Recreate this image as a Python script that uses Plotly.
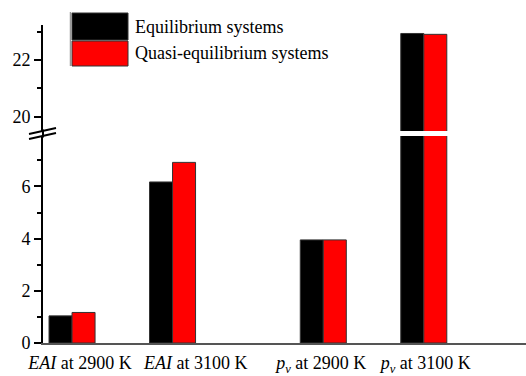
import plotly.graph_objects as go

# ---- data ----
categories = ["<i>EAI</i> at 2900 K", "<i>EAI</i> at 3100 K",
              "<i>p</i><sub><i>v</i></sub> at 2900 K", "<i>p</i><sub><i>v</i></sub> at 3100 K"]
series_names = ["Equilibrium systems", "Quasi-equilibrium systems"]
equilibrium = [1.04, 6.17, 3.95, 22.94]
quasi_equilibrium = [1.17, 6.92, 3.95, 22.91]
lower_ticks = [0, 2, 4, 6]
upper_ticks = [20, 22]

# ---- layout helpers (slot positions, not data) ----
slots = [0, 1, 2.5, 3.5]
label_pos = [0.08, 1.23, 2.48, 3.52]
W, H = 526, 376
ML, MR, MT, MB = 43, 0, 25, 33
PW, PH = W - ML - MR, H - MT - MB
FONT = "Times New Roman, Times, DejaVu Serif, serif"


def pxx(x):
    return (x - ML) / PW


def pxy(y):
    return (H - MB - y) / PH


colors = ["#000000", "#ff0000"]
values = [equilibrium, quasi_equilibrium]
bw = 0.229
offsets = [-bw, 0]

fig = go.Figure()
for yax in ["y", "y2"]:
    for name, vals, col, off in zip(series_names, values, colors, offsets):
        fig.add_trace(go.Bar(
            x=slots, y=vals, name=name, yaxis=yax,
            width=bw, offset=off,
            marker=dict(color=col, line=dict(color="#333333", width=1)),
            showlegend=False,
        ))

lower_top = 136
upper_bot = 131
lower_dom = [0, pxy(lower_top)]
upper_dom = [pxy(upper_bot), 1]

axis_common = dict(
    showline=True, linecolor="black", linewidth=2,
    ticks="outside", ticklen=7, tickwidth=2, tickcolor="black",
    showgrid=False, zeroline=False,
    tickfont=dict(family=FONT, size=18, color="black"),
    minor=dict(ticks="outside", ticklen=4, tickwidth=2, tickcolor="black", dtick=1),
    anchor="x",
)

fig.update_layout(
    width=W, height=H,
    margin=dict(l=ML, r=MR, t=MT, b=MB),
    paper_bgcolor="white", plot_bgcolor="white",
    barmode="overlay",
    font=dict(family=FONT, size=18, color="black"),
    xaxis=dict(
        range=[-0.289, 4.517], showline=True, linecolor="#555555", linewidth=1.5,
        tickvals=label_pos, ticktext=categories, ticks="",
        ticklabelstandoff=3,
        showgrid=False, zeroline=False,
        tickfont=dict(family=FONT, size=18, color="black"),
    ),
    yaxis=dict(domain=lower_dom, range=[0, (H - MB - lower_top) / 26.1],
               tickvals=lower_ticks, **axis_common),
    yaxis2=dict(domain=upper_dom, range=[19.49, 23.24],
                tickvals=upper_ticks, **axis_common),
)

shapes = []
# axis line through the break
shapes.append(dict(type="line", xref="paper", yref="paper",
                   x0=0, x1=0, y0=pxy(lower_top) - 0.005, y1=pxy(upper_bot) + 0.005,
                   line=dict(color="black", width=2)))
# break marks
for dy in [0, 5]:
    shapes.append(dict(type="line", xref="paper", yref="paper",
                       x0=pxx(29), y0=pxy(134 + dy), x1=pxx(56), y1=pxy(128 + dy),
                       line=dict(color="black", width=2)))
# legend swatches
shapes.append(dict(type="rect", xref="paper", yref="paper",
                   x0=pxx(72), x1=pxx(128), y0=pxy(40), y1=pxy(13),
                   fillcolor="black", line=dict(color="#333333", width=1)))
shapes.append(dict(type="rect", xref="paper", yref="paper",
                   x0=pxx(72), x1=pxx(128), y0=pxy(66), y1=pxy(41),
                   fillcolor="#ff0000", line=dict(color="#333333", width=1)))
shapes.append(dict(type="line", xref="paper", yref="paper",
                   x0=pxx(70.5), x1=pxx(70.5), y0=pxy(66), y1=pxy(12),
                   line=dict(color="#999999", width=1.5)))
fig.update_layout(shapes=shapes)

for name, yc in zip(series_names, [27, 53]):
    fig.add_annotation(text=name, xref="paper", yref="paper",
                       x=pxx(133), y=pxy(yc), xanchor="left", yanchor="middle",
                       showarrow=False, font=dict(family=FONT, size=18, color="black"))

fig.write_html("out.html")
